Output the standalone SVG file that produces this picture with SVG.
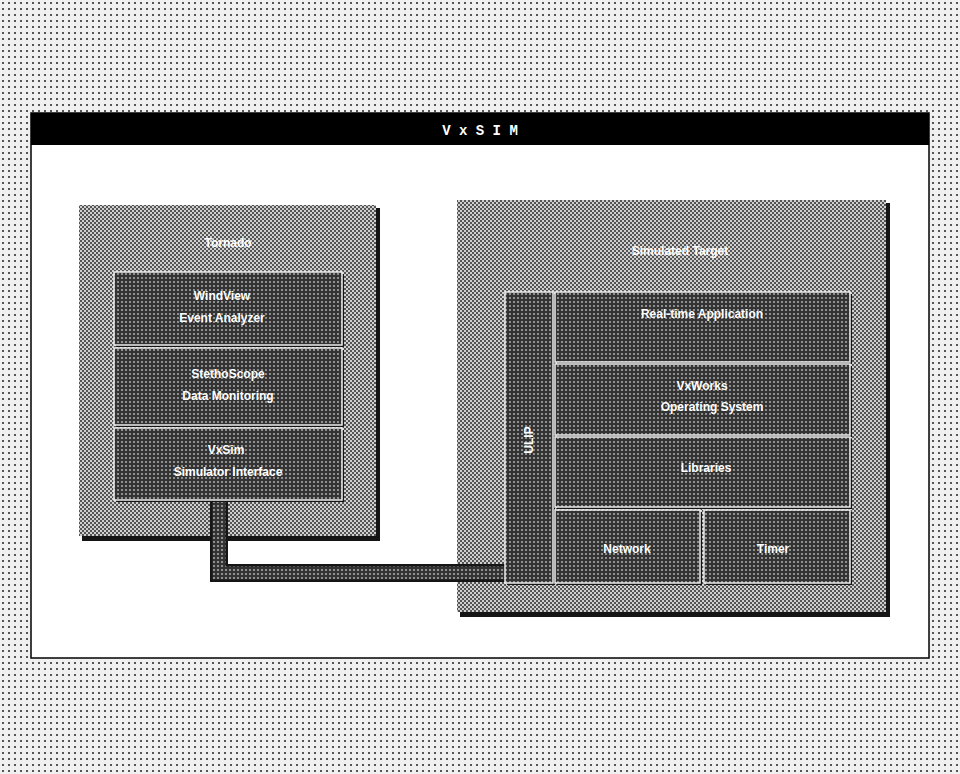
<svg xmlns="http://www.w3.org/2000/svg" width="960" height="774" viewBox="0 0 960 774">
<defs>
  <pattern id="bgdots" width="6" height="6" patternUnits="userSpaceOnUse">
    <rect width="6" height="6" fill="#f0f0f0"/>
    <rect x="2" y="2" width="2" height="2" fill="#555555"/>
  </pattern>
  <pattern id="mid" width="4" height="4" patternUnits="userSpaceOnUse">
    <rect width="4" height="4" fill="#cfcfcf"/>
    <rect x="0" y="0" width="2" height="2" fill="#555555"/>
    <rect x="2" y="2" width="2" height="2" fill="#555555"/>
  </pattern>
  <pattern id="dark" width="4" height="4" patternUnits="userSpaceOnUse">
    <rect width="4" height="4" fill="#333333"/>
    <rect x="1" y="1" width="2" height="2" fill="#8f8f8f"/>
  </pattern>
</defs>
<style>
  .outer { fill: url(#mid); }
  .shadow { fill: #151515; }
  .inner { fill: url(#dark); stroke: #eeeeee; stroke-width: 1.5; }
  .lbl { font-family: "Liberation Sans", Arial, sans-serif; font-size: 12px; font-weight: bold; fill: #ffffff; text-anchor: middle; }
  .title { font-family: "Liberation Mono", monospace; font-size: 14px; font-weight: bold; fill: #ffffff; text-anchor: middle; }
</style>
<rect width="960" height="774" fill="url(#bgdots)"/>
<g id="window">
  <rect x="31" y="113" width="898" height="545" fill="#ffffff" stroke="#000000" stroke-width="1.5"/>
  <rect x="31" y="113" width="898" height="32" fill="#000000"/>
  <text class="title" x="480" y="135">V x S I M</text>
</g>
<g id="host">
  <rect x="82" y="208" width="298" height="333" class="shadow"/>
  <rect x="79" y="205" width="297" height="331" class="outer"/>
  <text class="lbl" x="228" y="247">Tornado</text>
</g>
<g id="target">
  <rect x="460" y="203" width="430" height="414" class="shadow"/>
  <rect x="457" y="200" width="429" height="412" class="outer"/>
  <text class="lbl" x="680" y="255">Simulated Target</text>
</g>
<g id="connectors">
  <path d="M219 500 V573 H553" fill="none" stroke="#151515" stroke-width="18"/>
  <path d="M219 500 V573 H553" fill="none" stroke="url(#dark)" stroke-width="13"/>
</g>
<g id="n1">
  <rect x="116" y="274" width="228" height="73" class="shadow"/>
  <rect x="114" y="272" width="228" height="73" class="inner"/>
  <text class="lbl" x="222" y="300">WindView</text>
  <text class="lbl" x="222" y="322">Event Analyzer</text>
</g>
<g id="n2">
  <rect x="116" y="350" width="228" height="77" class="shadow"/>
  <rect x="114" y="348" width="228" height="77" class="inner"/>
  <text class="lbl" x="228" y="378">StethoScope</text>
  <text class="lbl" x="228" y="400">Data Monitoring</text>
</g>
<g id="n3">
  <rect x="116" y="430" width="228" height="72" class="shadow"/>
  <rect x="114" y="428" width="228" height="72" class="inner"/>
  <text class="lbl" x="226" y="454">VxSim</text>
  <text class="lbl" x="228" y="476">Simulator Interface</text>
</g>
<g id="r0">
  <rect x="507" y="294" width="48" height="291" class="shadow"/>
  <rect x="505" y="292" width="48" height="291" class="inner"/>
  <text class="lbl" transform="translate(533 440) rotate(-90)">ULIP</text>
</g>
<g id="r1">
  <rect x="557" y="294" width="295" height="70" class="shadow"/>
  <rect x="555" y="292" width="295" height="70" class="inner"/>
  <text class="lbl" x="702" y="318">Real-time Application</text>
</g>
<g id="r2">
  <rect x="557" y="366" width="295" height="71" class="shadow"/>
  <rect x="555" y="364" width="295" height="71" class="inner"/>
  <text class="lbl" x="702" y="390">VxWorks</text>
  <text class="lbl" x="712" y="411">Operating System</text>
</g>
<g id="r3">
  <rect x="557" y="439" width="295" height="70" class="shadow"/>
  <rect x="555" y="437" width="295" height="70" class="inner"/>
  <text class="lbl" x="706" y="472">Libraries</text>
</g>
<g id="r4">
  <rect x="557" y="512" width="145" height="73" class="shadow"/>
  <rect x="555" y="510" width="145" height="73" class="inner"/>
  <text class="lbl" x="627" y="553">Network</text>
</g>
<g id="r5">
  <rect x="706" y="512" width="146" height="73" class="shadow"/>
  <rect x="704" y="510" width="146" height="73" class="inner"/>
  <text class="lbl" x="773" y="553">Timer</text>
</g>
</svg>
